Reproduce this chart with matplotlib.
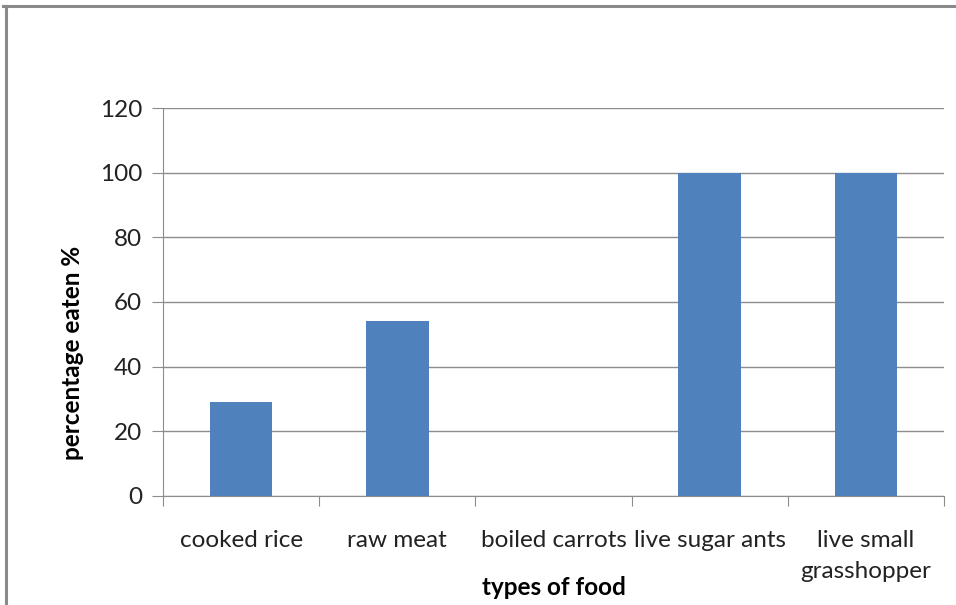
import matplotlib.pyplot as plt
import numpy as np
from matplotlib.lines import Line2D

foods = ['cooked rice', 'raw meat', 'boiled carrots', 'live sugar ants', 'live small\ngrasshopper']
eaten = [29, 54, 0, 100, 100]

W, H = 956, 605
plt.rcParams['font.family'] = ['Lato', 'DejaVu Sans']
fs = 17.5

fig = plt.figure(figsize=(W / 100, H / 100), dpi=100)

# outer chart border (top and left only visible)
fig.add_artist(Line2D([3 / W, 1], [1 - 6 / H, 1 - 6 / H], color='#8a8a8a', lw=2.2))
fig.add_artist(Line2D([6 / W, 6 / W], [0, 1 - 6 / H], color='#8a8a8a', lw=2.2))

ax = fig.add_axes([163 / W, 109 / H, (944 - 163) / W, (496 - 108) / H])

x = np.arange(len(foods))
ax.bar(x, eaten, width=0.4, color='#4f81bd', zorder=3)

ax.set_xlim(-0.5, len(foods) - 0.5)
ax.set_ylim(0, 120)
ax.set_yticks(np.arange(0, 121, 20))
ax.yaxis.grid(True, color='#8c8c8c', lw=1.0, zorder=0)

for s in ['top', 'right']:
    ax.spines[s].set_visible(False)
ax.spines['left'].set_color('#8c8c8c')
ax.spines['bottom'].set_color('#8c8c8c')

# category boundary ticks on x
ax.set_xticks(np.arange(-0.5, len(foods)))
ax.set_xticklabels([])
ax.tick_params(axis='x', length=7, color='#8c8c8c', direction='out')
ax.tick_params(axis='y', length=8, color='#8c8c8c', direction='out', labelsize=fs, pad=7,
               labelcolor='#222222')
for i, f in enumerate(foods):
    ax.text(i, -10.6, f, ha='center', va='top', fontsize=fs, color='#222222', linespacing=1.6)

fig.text(72 / W, 1 - 353 / H, 'percentage eaten %', rotation=90, ha='center', va='center',
         fontsize=fs, fontweight='bold')
ax.text(2, -28.2, 'types of food', ha='center', va='center', fontsize=fs, fontweight='bold')

fig.savefig('out.png', dpi=100)
